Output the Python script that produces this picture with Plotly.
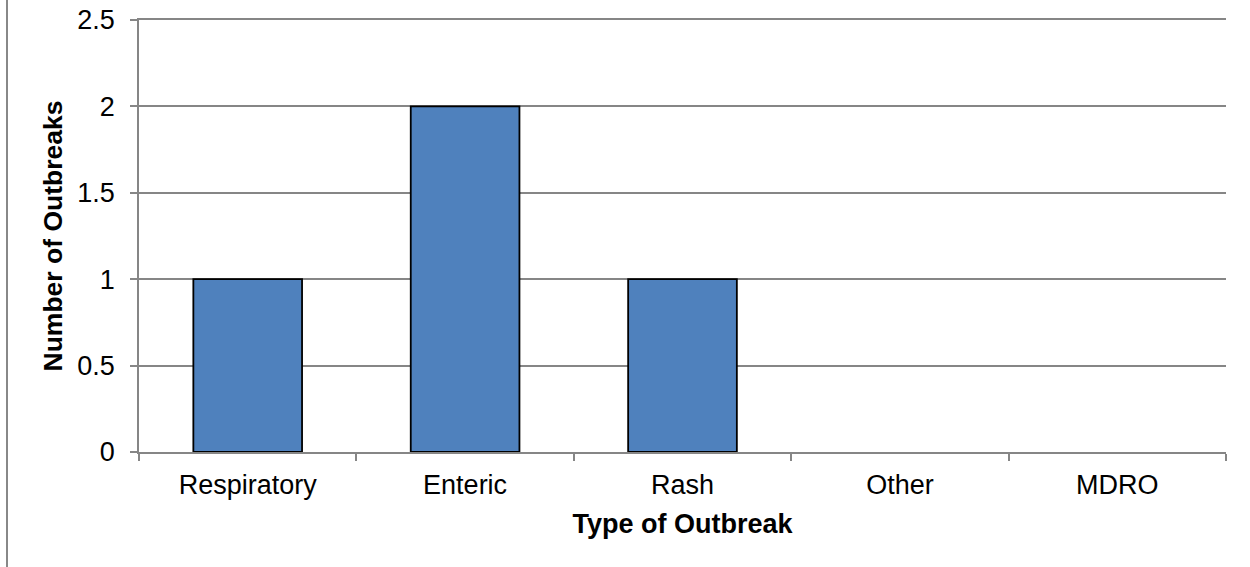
import plotly.graph_objects as go

categories = ["Respiratory", "Enteric", "Rash", "Other", "MDRO"]
outbreaks = [1, 2, 1, 0, 0]
y_ticks = [0, 0.5, 1, 1.5, 2, 2.5]
y_tick_labels = ["0", "0.5", "1", "1.5", "2", "2.5"]

fig = go.Figure(go.Bar(
    x=categories, y=outbreaks,
    marker=dict(color="#4F81BD",
                line=dict(color="#000000", width=[1.8 if v > 0 else 0 for v in outbreaks])),
    width=0.5,
))

font = "Liberation Sans, Arial, sans-serif"
FS = 27
L, R, T, B = 139, 24, 20, 115
W, H = 1250, 567
pw = W - L - R
ph = H - T - B
fig.update_layout(
    width=W, height=H,
    margin=dict(l=L, r=R, t=T, b=B, autoexpand=False),
    paper_bgcolor="white", plot_bgcolor="white",
    showlegend=False,
    font=dict(family=font, color="#000000", size=FS),
    xaxis=dict(
        type="category", tickson="boundaries", automargin=False,
        ticks="outside", ticklen=7, tickcolor="#868686", tickwidth=1.5,
        showline=True, linecolor="#868686", linewidth=1.5, mirror=True,
        showgrid=False,
        tickfont=dict(size=FS, family=font),
        ticklabelstandoff=8,
        title=dict(text="<b>Type of Outbreak</b>", font=dict(size=FS, family=font), standoff=15),
    ),
    yaxis=dict(
        range=[0, 2.5], tickvals=y_ticks, ticktext=y_tick_labels, automargin=False,
        ticks="outside", ticklen=7, tickcolor="#868686", tickwidth=1.5,
        showline=True, linecolor="#868686", linewidth=1.5,
        showgrid=True, gridcolor="#868686", gridwidth=1.5,
        zeroline=False,
        tickfont=dict(size=FS, family=font),
        ticklabelstandoff=10, ticklabeloverflow="allow",
        title=dict(text="<b>Number of Outbreaks</b>", font=dict(size=26.5, family=font), standoff=7),
    ),
    shapes=[dict(type="line", xref="paper", yref="paper",
                 x0=(7 - L) / pw, x1=(7 - L) / pw, y0=-B / ph, y1=1 + T / ph,
                 line=dict(color="#888888", width=2))],
)

fig.write_html("out.html", config={"displayModeBar": False},
               post_script="document.body.style.margin='0';")
